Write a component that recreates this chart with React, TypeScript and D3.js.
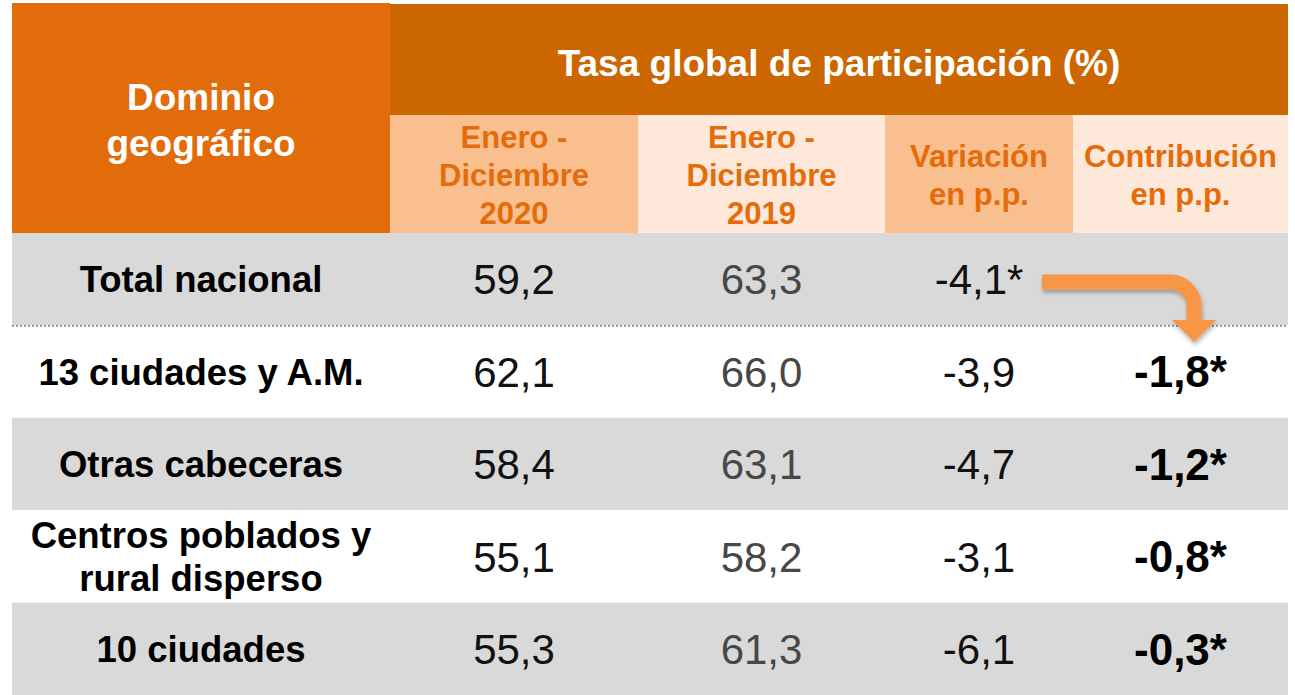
import React from 'react';
import * as d3 from 'd3';

// table content
const title = 'Tasa global de participación (%)';
const stubHeader = ['Dominio', 'geográfico'];
const colHeaders = [
  ['Enero -', 'Diciembre', '2020'],
  ['Enero -', 'Diciembre', '2019'],
  ['Variación', 'en p.p.'],
  ['Contribución', 'en p.p.'],
];
const domains = [
  ['Total nacional'],
  ['13 ciudades y A.M.'],
  ['Otras cabeceras'],
  ['Centros poblados y', 'rural disperso'],
  ['10 ciudades'],
];
const tgp2020 = ['59,2', '62,1', '58,4', '55,1', '55,3'];
const tgp2019 = ['63,3', '66,0', '63,1', '58,2', '61,3'];
const variacion = ['-4,1*', '-3,9', '-4,7', '-3,1', '-6,1'];
const contribucion = ['', '-1,8*', '-1,2*', '-0,8*', '-0,3*'];

const W = 1295;
const H = 695;
const font = '"Liberation Sans", Arial, sans-serif';
const left = 12, right = 1288, top = 3, headSplit = 115, headBottom = 233;
const colWidths = [378, 248, 247, 188, 215];

const App = () => {
  const edges = [left, ...Array.from(d3.cumsum(colWidths), v => left + v)];
  const colX = (i: number) => edges[i];
  const colW = (i: number) => edges[i + 1] - edges[i];
  const colC = (i: number) => (edges[i] + edges[i + 1]) / 2;

  const y = d3.scaleBand<number>()
    .domain(d3.range(domains.length))
    .range([headBottom, H]);
  const rowC = (i: number) => (y(i) as number) + y.bandwidth() / 2;

  const columns = [tgp2020, tgp2019, variacion, contribucion];
  const colStyle = [
    { fill: '#111', weight: 'normal', size: 42 },
    { fill: '#474747', weight: 'normal', size: 42 },
    { fill: '#111', weight: 'normal', size: 42 },
    { fill: '#000', weight: 'bold', size: 44 },
  ];
  const subBg = ['#F9BF8F', '#FDE8DA', '#F9BF8F', '#FDE8DA'];

  const lines = (arr: string[], cx: number, cy: number, step: number, props: any) =>
    arr.map((t, k) => (
      <text key={k} x={cx} y={cy + (k - (arr.length - 1) / 2) * step} dy="0.36em"
        textAnchor="middle" {...props}>{t}</text>
    ));

  const dividerY = (y(1) as number);
  const ay = 282;

  return (
    <svg width={W} height={H} style={{ position: 'absolute', left: 0, top: 0, background: '#fff' }}
      fontFamily={font}>
      <defs>
        <filter id="sh" x="-20%" y="-20%" width="140%" height="160%">
          <feDropShadow dx="1" dy="3" stdDeviation="2" floodColor="#000" floodOpacity="0.3" />
        </filter>
      </defs>
      {/* header */}
      <rect x={colX(0)} y={top} width={colW(0)} height={headBottom - top} fill="#E36C0A" />
      <rect x={colX(1)} y={top + 1} width={right - colX(1)} height={headSplit - top - 1} fill="#CC6600" />
      {lines(stubHeader, colC(0), 120, 46, { fill: '#fff', fontWeight: 'bold', fontSize: 37 })}
      <text x={(colX(1) + right) / 2} y={63} dy="0.36em" textAnchor="middle" fill="#fff"
        fontWeight="bold" fontSize={37}>{title}</text>
      {colHeaders.map((h, i) => (
        <g key={i}>
          <rect x={colX(i + 1)} y={headSplit} width={colW(i + 1)} height={headBottom - headSplit} fill={subBg[i]} />
          {lines(h, colC(i + 1), 175, 38, { fill: '#E46C0A', fontWeight: 'bold', fontSize: 31 })}
        </g>
      ))}
      {/* body rows */}
      {domains.map((d, i) => (
        <g key={i}>
          <rect x={left} y={y(i)} width={right - left} height={y.bandwidth()}
            fill={i % 2 === 0 ? '#D9D9D9' : '#FFFFFF'} />
          {lines(d, colC(0), rowC(i), 43, { fill: '#000', fontWeight: 'bold', fontSize: 36.5 })}
          {columns.map((c, j) => (
            <text key={j} x={colC(j + 1)} y={rowC(i)} dy="0.36em" textAnchor="middle"
              fill={colStyle[j].fill} fontWeight={colStyle[j].weight} fontSize={colStyle[j].size}>{c[i]}</text>
          ))}
        </g>
      ))}
      <line x1={left} x2={right} y1={dividerY + 0.5} y2={dividerY + 0.5} stroke="#333" strokeWidth={1}
        strokeDasharray="2,2" />
      {/* arrow from total variation to contributions */}
      <g filter="url(#sh)">
        <path d={`M1042,${ay} H1170 A24,24 0 0 1 1194,${ay + 24} V322`} fill="none" stroke="#F79646"
          strokeWidth={15} />
        <path d="M1172,320 L1216,320 L1194,342 Z" fill="#F79646" />
      </g>
    </svg>
  );
};

export default App;
